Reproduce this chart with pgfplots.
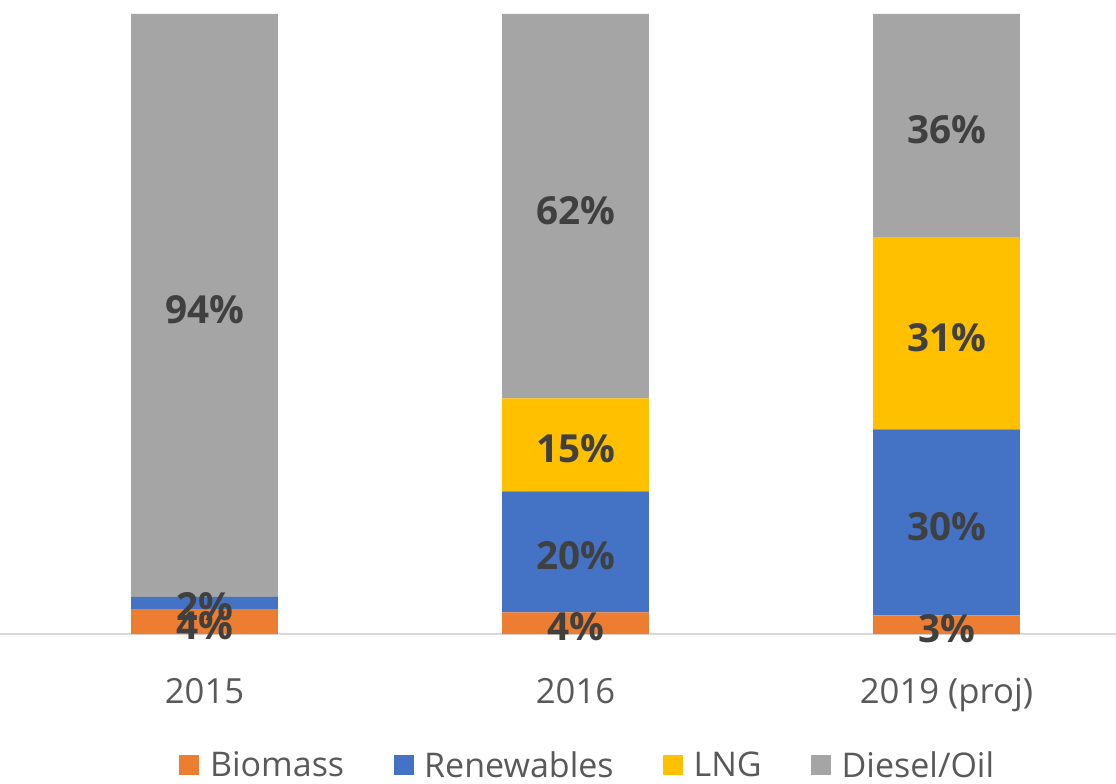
\documentclass[border=0pt]{standalone}
\usepackage{pgfplots}
\pgfplotsset{compat=1.18}
\usepackage{fontspec}
\setmainfont{Open Sans}
\definecolor{cbio}{HTML}{ED7D31}
\definecolor{cren}{HTML}{4472C4}
\definecolor{clng}{HTML}{FFC000}
\definecolor{cdie}{HTML}{A5A5A5}
\definecolor{labeltext}{HTML}{404040}
\definecolor{ticktext}{HTML}{595959}
\definecolor{axisgray}{HTML}{D9D9D9}
\pgfplotsset{sqlegend/.style={legend image code/.code={\fill[##1] (0pt,-7.5pt) rectangle (15pt,7.5pt);}}}

\begin{document}
\begin{tikzpicture}
\useasboundingbox (0,-112.5pt) rectangle (837pt,475.5pt);
\begin{axis}[
    at={(0,0)}, anchor=south west,
    scale only axis, width=837pt, height=465pt,
    ybar stacked, bar width=0.396,
    xmin=-0.5512, xmax=2.4569, ymin=0, ymax=100,
    axis x line=bottom, axis y line=none,
    x axis line style={-, draw=axisgray, line width=1.5pt},
    xtick={0,1,2}, xticklabels={2015,2016,2019 (proj)},
    major tick length=0pt,
    xticklabel style={font=\fontsize{26}{30}\selectfont, text=ticktext, anchor=base, yshift=-52pt},
    visualization depends on={rawy \as \rawy},
    nodes near coords={\ifdim\rawy pt>0.2pt\pgfmathprintnumber[fixed,precision=0,assume math mode=true]{\rawy}\%\fi},
    every node near coord/.append style={font=\bfseries\fontsize{29}{34}\selectfont, text=labeltext, anchor=center, yshift=-3pt},
    legend columns=4,
    legend style={at={(axis description cs:0.527,-0.212)}, anchor=center, draw=none, fill=none,
        font=\fontsize{25.5}{29}\selectfont, text=ticktext,
        /tikz/every odd column/.append style={column sep=6pt},
        /tikz/every even column/.append style={column sep=35pt}},
]
\addplot[fill=cbio, draw=none, sqlegend] coordinates {(0,4) (1,3.5) (2,3)};
\addlegendentry{Biomass}
\addplot[fill=cren, draw=none, sqlegend] coordinates {(0,2) (1,19.5) (2,30)};
\addlegendentry{Renewables}
\addplot[fill=clng, draw=none, sqlegend] coordinates {(0,0) (1,15) (2,31)};
\addlegendentry{LNG}
\addplot[fill=cdie, draw=none, sqlegend] coordinates {(0,94) (1,62) (2,36)};
\addlegendentry{Diesel/Oil}
\end{axis}
\end{tikzpicture}
\end{document}
